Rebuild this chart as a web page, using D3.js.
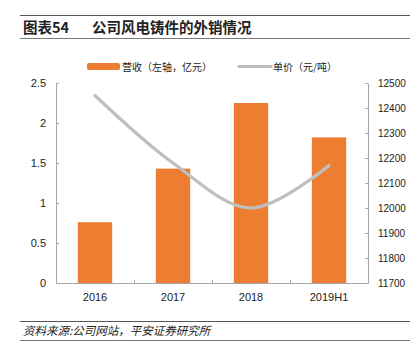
<!DOCTYPE html>
<html>
<head>
<meta charset="utf-8">
<script src="https://cdn.jsdelivr.net/npm/d3@7"></script>
<style>
  body { margin: 0; background: #fff; }
  svg text { font-family: "Liberation Sans", Arial, "Noto Sans CJK SC", sans-serif; }
  .cjk { font-family: "Noto Sans CJK SC", sans-serif; }
</style>
</head>
<body>
<div id="chart"></div>
<script>
var categories = ["2016", "2017", "2018", "2019H1"];
var revenue = [0.76, 1.43, 2.25, 1.82];      // 营收, 亿元 (left axis)
var unitPrice = [12450, 12180, 12000, 12170]; // 单价, 元/吨 (right axis)
var leftTicks = [0, 0.5, 1, 1.5, 2, 2.5];
var rightTicks = [11700, 11800, 11900, 12000, 12100, 12200, 12300, 12400, 12500];

var W = 417, H = 359,
  plotL = 56, plotR = 368, plotT = 83, plotB = 283,
  orange = "#ED7D31", grey = "#BFBFBF", axisGrey = "#A6A6A6";

var svg = d3.select("#chart").append("svg")
  .attr("width", W)
  .attr("height", H);

// title block
svg.append("line").attr("x1", 20).attr("x2", 410).attr("y1", 15.5).attr("y2", 15.5)
  .attr("stroke", "#555").attr("stroke-width", 1);
svg.append("line").attr("x1", 20).attr("x2", 410).attr("y1", 38.5).attr("y2", 38.5)
  .attr("stroke", "#777").attr("stroke-width", 1);
svg.append("text").attr("class", "cjk").attr("x", 23).attr("y", 33)
  .attr("font-size", 14.5).attr("font-weight", "bold").attr("fill", "#222").text("图表54");
svg.append("text").attr("class", "cjk").attr("x", 92).attr("y", 33)
  .attr("font-size", 14.5).attr("font-weight", "bold").attr("fill", "#222").text("公司风电铸件的外销情况");

var x = d3.scaleBand().domain(categories).range([plotL, plotR]).paddingInner(0.56).paddingOuter(0.28);
var band = d3.scaleBand().domain(categories).range([plotL, plotR]);
var yL = d3.scaleLinear().domain([0, 2.5]).range([plotB, plotT]);
var yR = d3.scaleLinear().domain([11700, 12500]).range([plotB, plotT]);

// bars
svg.append("g").selectAll("rect").data(revenue).enter().append("rect")
  .attr("x", function(d, i) { return x(categories[i]); })
  .attr("y", function(d) { return yL(d); })
  .attr("width", x.bandwidth())
  .attr("height", function(d) { return plotB - yL(d); })
  .attr("fill", orange);

// price line
var line = d3.line()
  .x(function(d, i) { return band(categories[i]) + band.bandwidth() / 2; })
  .y(function(d) { return yR(d); })
  .curve(d3.curveCatmullRom.alpha(0.5));
svg.append("path").datum(unitPrice)
  .attr("d", line)
  .attr("fill", "none")
  .attr("stroke", grey)
  .attr("stroke-width", 3.2)
  .attr("stroke-linecap", "round");

// axes
var gL = svg.append("g").attr("transform", "translate(" + plotL + ",0)")
  .call(d3.axisLeft(yL).tickValues(leftTicks).tickSizeInner(-3).tickSizeOuter(0).tickPadding(10)
    .tickFormat(function(d) { return String(d); }));
var gR = svg.append("g").attr("transform", "translate(" + plotR + ",0)")
  .call(d3.axisRight(yR).tickValues(rightTicks).tickSizeInner(-3).tickSizeOuter(0).tickPadding(10)
    .tickFormat(function(d) { return String(d); }));
var gB = svg.append("g").attr("transform", "translate(0," + plotB + ")")
  .call(d3.axisBottom(band).tickSize(0).tickSizeOuter(0).tickPadding(8));

// category boundary ticks
svg.append("g").selectAll("line").data(categories.slice(1)).enter().append("line")
  .attr("x1", function(d) { return band(d) + 0.5; })
  .attr("x2", function(d) { return band(d) + 0.5; })
  .attr("y1", plotB).attr("y2", plotB - 3)
  .attr("stroke", axisGrey);

[gL, gR, gB].forEach(function(g) {
  g.selectAll(".domain").attr("stroke", axisGrey);
  g.selectAll(".tick line").attr("stroke", axisGrey);
  g.selectAll("text").attr("font-size", 11).attr("fill", "#222")
    .attr("font-family", "'Liberation Sans', Arial, sans-serif");
});
gR.selectAll("text").attr("font-size", 10);
gB.selectAll("text").attr("dy", "0.9em");

// legend
var lg = svg.append("g");
lg.append("rect").attr("x", 87).attr("y", 63).attr("width", 33).attr("height", 7)
  .attr("rx", 2).attr("fill", orange);
lg.append("text").attr("class", "cjk").attr("x", 122).attr("y", 70.5)
  .attr("font-size", 10).attr("fill", "#222").text("营收（左轴，亿元）");
lg.append("line").attr("x1", 239).attr("x2", 271).attr("y1", 66.5).attr("y2", 66.5)
  .attr("stroke", grey).attr("stroke-width", 3).attr("stroke-linecap", "round");
lg.append("text").attr("class", "cjk").attr("x", 273).attr("y", 70.5)
  .attr("font-size", 10).attr("fill", "#222").text("单价（元/吨）");

// source block
svg.append("line").attr("x1", 20).attr("x2", 410).attr("y1", 321.5).attr("y2", 321.5)
  .attr("stroke", "#555");
svg.append("line").attr("x1", 20).attr("x2", 410).attr("y1", 340.5).attr("y2", 340.5)
  .attr("stroke", "#777");
svg.append("text").attr("class", "cjk").attr("x", 23).attr("y", 335)
  .attr("font-size", 11.5).attr("font-style", "italic").attr("fill", "#222")
  .text("资料来源:公司网站，平安证券研究所");
</script>
</body>
</html>
